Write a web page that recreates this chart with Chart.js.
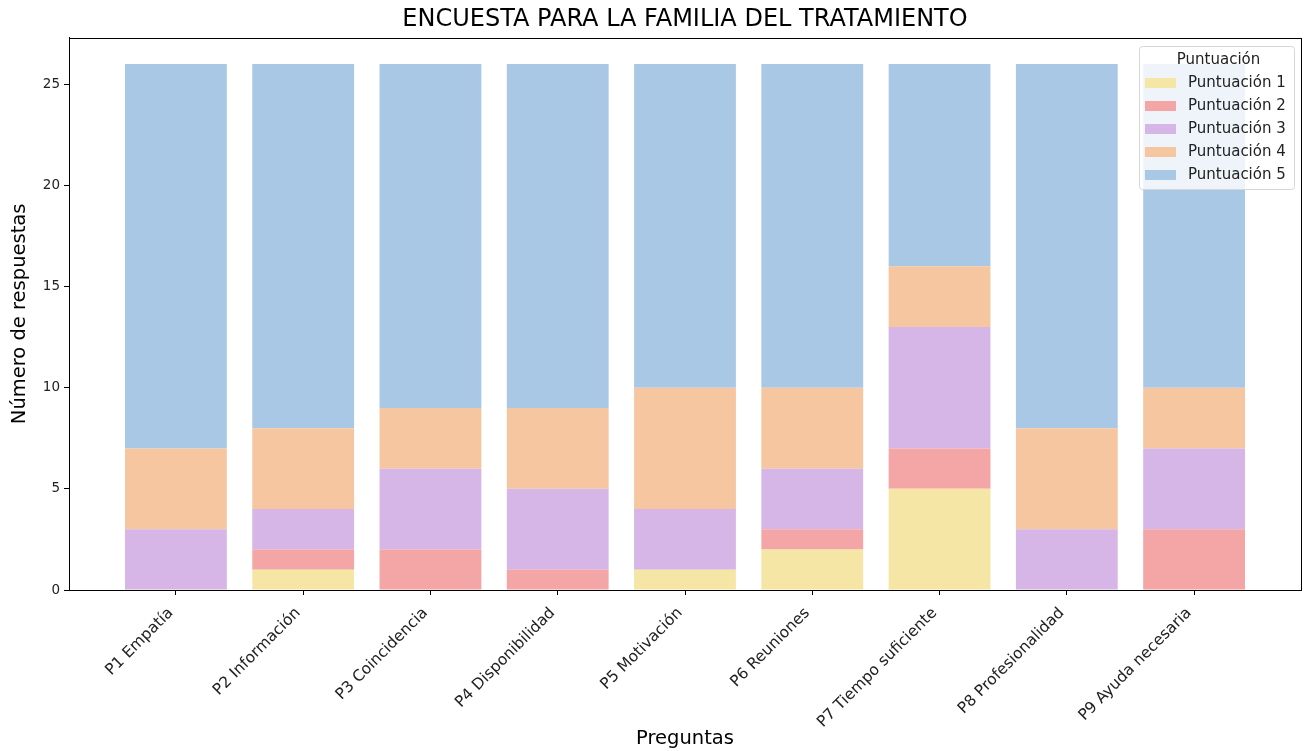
<!DOCTYPE html>
<html>
<head>
<meta charset="utf-8">
<script src="https://cdn.jsdelivr.net/npm/chart.js@4.4.1/dist/chart.umd.min.js"></script>
<style>
  html, body { margin: 0; padding: 0; background: #fff; }
  #wrap { width: 1307px; height: 751px; }
</style>
</head>
<body>
<div id="wrap"><canvas id="chart" width="1307" height="751"></canvas></div>
<script>
const preguntas = ['P1 Empatía', 'P2 Información', 'P3 Coincidencia', 'P4 Disponibilidad', 'P5 Motivación',
  'P6 Reuniones', 'P7 Tiempo suficiente', 'P8 Profesionalidad', 'P9 Ayuda necesaria'];
const puntuacion1 = [0, 1, 0, 0, 1, 2, 5, 0, 0];
const puntuacion2 = [0, 1, 2, 1, 0, 1, 2, 0, 3];
const puntuacion3 = [3, 2, 4, 4, 3, 3, 6, 3, 4];
const puntuacion4 = [4, 4, 3, 4, 6, 4, 3, 5, 3];
const puntuacion5 = [19, 18, 17, 17, 16, 16, 10, 18, 16];
const yTicks = [0, 5, 10, 15, 20, 25];

const FONT = "'DejaVu Sans', sans-serif";

function toPoints(arr) {
  return arr.map((v, i) => ({ x: i, y: v }));
}

const series = [
  { label: 'Puntuación 1', data: puntuacion1, color: '#f5e6a6' },
  { label: 'Puntuación 2', data: puntuacion2, color: '#f4a6a6' },
  { label: 'Puntuación 3', data: puntuacion3, color: '#d5b6e6' },
  { label: 'Puntuación 4', data: puntuacion4, color: '#f6c6a0' },
  { label: 'Puntuación 5', data: puntuacion5, color: '#a8c8e6' },
];

// marco completo del área de dibujo
const framePlugin = {
  id: 'frame',
  afterDatasetsDraw(chart) {
    const { ctx, chartArea: a } = chart;
    ctx.save();
    ctx.strokeStyle = '#000';
    ctx.lineWidth = 1;
    ctx.strokeRect(Math.round(a.left) + 0.5, Math.round(a.top) + 0.5,
      Math.round(a.right - a.left), Math.round(a.bottom - a.top));
    ctx.restore();
  }
};

// leyenda dentro del gráfico, arriba a la derecha
const legendBox = {
  id: 'legendBox',
  afterDraw(chart) {
    const { ctx } = chart;
    const x = 1139, y = 46, w = 155, h = 143;
    ctx.save();
    ctx.fillStyle = 'rgba(255,255,255,0.8)';
    ctx.strokeStyle = '#d6d6d6';
    ctx.lineWidth = 1;
    ctx.beginPath();
    ctx.roundRect(x + 0.5, y + 0.5, w, h, 3);
    ctx.fill();
    ctx.stroke();

    ctx.fillStyle = '#222';
    ctx.font = '15px ' + FONT;
    ctx.textAlign = 'center';
    ctx.textBaseline = 'middle';
    ctx.fillText('Puntuación', x + w / 2 + 2, y + 14);

    ctx.textAlign = 'left';
    chart.data.datasets.forEach((ds, i) => {
      const yy = y + 37 + i * 23;
      ctx.fillStyle = ds.backgroundColor;
      ctx.fillRect(x + 6, yy - 5, 31, 10);
      ctx.fillStyle = '#222';
      ctx.fillText(ds.label, x + 49, yy);
    });
    ctx.restore();
  }
};

new Chart(document.getElementById('chart'), {
  type: 'bar',
  data: {
    datasets: series.map(s => ({
      label: s.label,
      data: toPoints(s.data),
      backgroundColor: s.color,
      borderWidth: 0,
      categoryPercentage: 0.8,
      barPercentage: 1.0,
    }))
  },
  options: {
    responsive: false,
    animation: false,
    layout: { padding: { left: 0, right: 6, top: 0, bottom: 0 } },
    plugins: {
      legend: { display: false },
      tooltip: { enabled: false },
      title: {
        display: true,
        fullSize: false,
        text: 'ENCUESTA PARA LA FAMILIA DEL TRATAMIENTO',
        color: '#000',
        font: { family: FONT, size: 24, weight: 'normal' },
        padding: { top: 5, bottom: 4 }
      }
    },
    scales: {
      x: {
        type: 'linear',
        stacked: true,
        min: -0.84,
        max: 8.84,
        offset: false,
        afterBuildTicks(scale) {
          scale.ticks = preguntas.map((_, i) => ({ value: i }));
        },
        afterFit(scale) { scale.height = 161; },
        ticks: {
          autoSkip: false,
          minRotation: 45,
          maxRotation: 45,
          color: '#222',
          padding: 9,
          labelOffset: -5,
          font: { family: FONT, size: 15.5 },
          callback: (v) => preguntas[v] ?? ''
        },
        grid: { display: true, offset: false, drawOnChartArea: false, color: '#000', tickLength: 5 },
        border: { display: true, color: '#000' },
        title: {
          display: true,
          text: 'Preguntas',
          color: '#000',
          font: { family: FONT, size: 19.5 },
          padding: { top: 0, bottom: 0 }
        }
      },
      y: {
        stacked: true,
        min: 0,
        max: 27.3,
        afterBuildTicks(scale) {
          scale.ticks = yTicks.map(v => ({ value: v }));
        },
        afterFit(scale) { scale.width = 69; },
        ticks: {
          color: '#222',
          padding: 4,
          font: { family: FONT, size: 13.5 }
        },
        grid: { display: true, drawOnChartArea: false, color: '#000', tickLength: 5 },
        border: { display: true, color: '#000' },
        title: {
          display: true,
          text: 'Número de respuestas',
          color: '#000',
          font: { family: FONT, size: 19.5 },
          padding: { top: 8, bottom: 2 }
        }
      }
    }
  },
  plugins: [framePlugin, legendBox]
});
</script>
</body>
</html>
